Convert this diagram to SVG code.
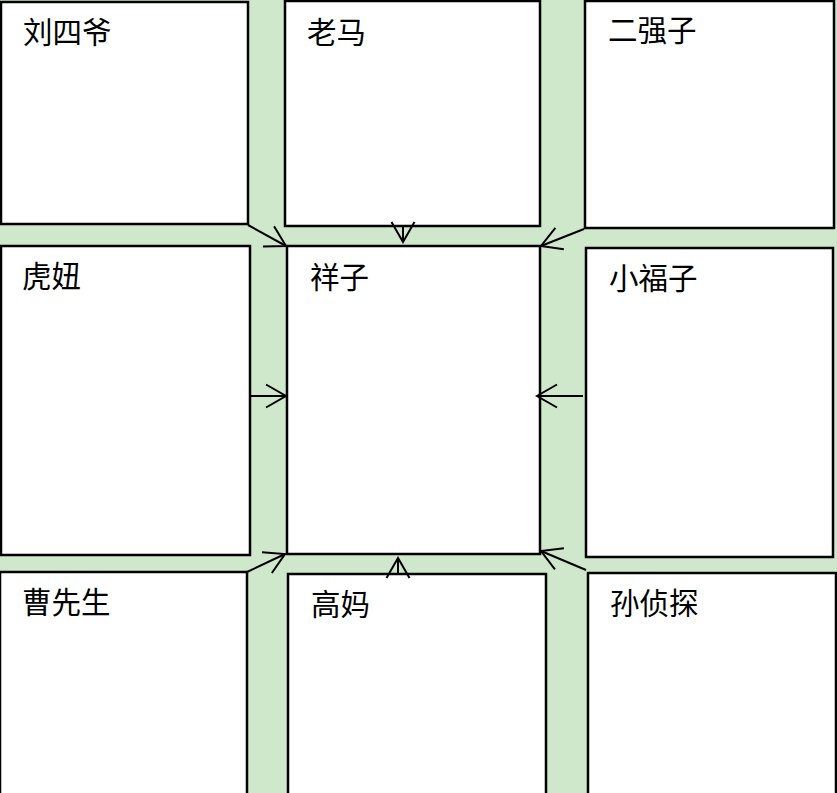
<svg xmlns="http://www.w3.org/2000/svg" width="837" height="793" viewBox="0 0 837 793">
<defs>
<style>
.box{fill:#ffffff;stroke:#000000;stroke-width:2.5}
.lbl{font-family:"Liberation Serif","Noto Sans CJK SC",serif;font-size:29.5px;fill:#000000}
.edge{stroke:#000000;stroke-width:2;fill:none}
</style>
<marker id="arr" markerUnits="userSpaceOnUse" markerWidth="30" markerHeight="30" viewBox="-24 -15 30 30" refX="0" refY="0" orient="auto">
<path d="M-20,-11.5 L0,0 L-20,11.5" fill="none" stroke="#000000" stroke-width="2"/>
</marker>
</defs>
<rect x="0" y="0" width="837" height="793" fill="#CFE7CB"/>
<g id="liusiye"><rect class="box" x="1" y="2" width="247" height="222"/><text class="lbl" x="23" y="43">刘四爷</text></g>
<g id="laoma"><rect class="box" x="285" y="1" width="255" height="225"/><text class="lbl" x="307" y="43">老马</text></g>
<g id="erqiangzi"><rect class="box" x="585" y="1" width="249" height="227"/><text class="lbl" x="608" y="41">二强子</text></g>
<g id="huniu"><rect class="box" x="1" y="246" width="249" height="309"/><text class="lbl" x="22" y="287">虎妞</text></g>
<g id="xiangzi"><rect class="box" x="287" y="246" width="253" height="308"/><text class="lbl" x="310" y="288">祥子</text></g>
<g id="xiaofuzi"><rect class="box" x="586" y="248" width="247" height="309"/><text class="lbl" x="609" y="289">小福子</text></g>
<g id="caoxiansheng"><rect class="box" x="0" y="572" width="247" height="230"/><text class="lbl" x="22" y="613">曹先生</text></g>
<g id="gaoma"><rect class="box" x="288" y="574" width="258" height="230"/><text class="lbl" x="311" y="615">高妈</text></g>
<g id="sunzhentan"><rect class="box" x="588" y="573" width="248" height="230"/><text class="lbl" x="610" y="614">孙侦探</text></g>
<g id="connectors">
<line class="edge" x1="248" y1="225" x2="286" y2="246" marker-end="url(#arr)"/>
<line class="edge" x1="403" y1="226" x2="403" y2="242" marker-end="url(#arr)"/>
<line class="edge" x1="584" y1="229" x2="541" y2="246" marker-end="url(#arr)"/>
<line class="edge" x1="249" y1="396" x2="286" y2="396" marker-end="url(#arr)"/>
<line class="edge" x1="583" y1="396" x2="537" y2="396" marker-end="url(#arr)"/>
<line class="edge" x1="247" y1="572" x2="285" y2="554" marker-end="url(#arr)"/>
<line class="edge" x1="398" y1="575" x2="398" y2="558" marker-end="url(#arr)"/>
<line class="edge" x1="586" y1="570" x2="541" y2="551" marker-end="url(#arr)"/>
</g>
</svg>
